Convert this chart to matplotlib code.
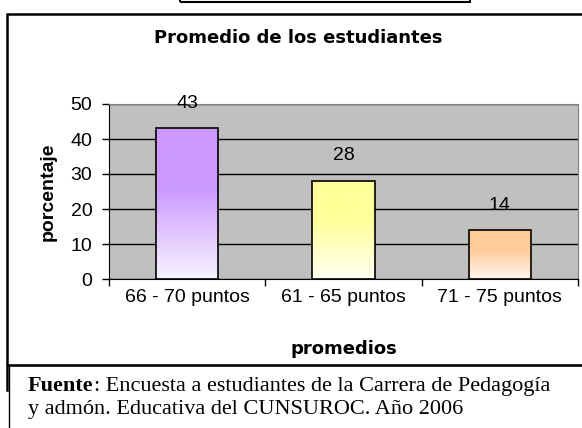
import numpy as np
import matplotlib
matplotlib.use("Agg")
from matplotlib import pyplot as plt
from matplotlib.colors import LinearSegmentedColormap
from matplotlib.patches import Rectangle

categorias = ["66 - 70 puntos", "61 - 65 puntos", "71 - 75 puntos"]
porcentajes = [43, 28, 14]
colores_top = ["#cc99ff", "#ffff99", "#ffcc99"]
colores_bottom = ["#f8f4ff", "#fffff2", "#fff6ee"]

W, H = 582, 428
plt.rcParams['font.family'] = ['Liberation Sans', 'DejaVu Sans']
fig = plt.figure(figsize=(W / 100, H / 100), dpi=100)


def px(x0, y0, x1, y1):
    # pixel box (top-left origin) -> figure fraction rect
    return [x0 / W, 1 - y1 / H, (x1 - x0) / W, (y1 - y0) / H]


ax = fig.add_axes(px(109, 104, 578, 279))
ax.set_facecolor("#c0c0c0")

x = np.arange(len(categorias))
bars = ax.bar(x, porcentajes, width=0.4, color="none", edgecolor="black", linewidth=1.2, zorder=3)
for b, ct, cb in zip(bars, colores_top, colores_bottom):
    cmap = LinearSegmentedColormap.from_list("g", [(0, cb), (0.6, ct), (1, ct)])
    grad = np.linspace(0, 1, 256).reshape(-1, 1)
    bx, by = b.get_x(), b.get_y()
    im = ax.imshow(grad, cmap=cmap, origin="lower", aspect="auto",
                   extent=[bx, bx + b.get_width(), by, by + b.get_height()], zorder=2)
    im.set_clip_path(b)
ax.set_xlim(-0.5, 2.5)
ax.set_ylim(0, 50)

for xi, v in zip(x, porcentajes):
    ax.annotate(f"{v}", (xi, v), xytext=(0, 18), textcoords="offset points",
                ha="center", va="center", fontsize=14, zorder=4)

ax.set_yticks([0, 10, 20, 30, 40, 50])
ax.yaxis.grid(True, color="black", linewidth=1)
ax.set_axisbelow(True)
ax.tick_params(axis="y", labelsize=14, length=5, width=1, pad=7)
ax.set_xticks(x)
ax.set_xticklabels(categorias)
ax.set_xticks([-0.5, 0.5, 1.5, 2.5], minor=True)
ax.tick_params(axis="x", which="major", length=0, labelsize=14, pad=7)
ax.tick_params(axis="x", which="minor", length=5, width=1)
for s in ["top", "right"]:
    ax.spines[s].set_color("#808080")
for s in ["left", "bottom"]:
    ax.spines[s].set_color("black")

ax.set_ylabel("porcentaje", fontsize=14, fontweight="bold")
ax.yaxis.set_label_coords((48 - 109) / 469, 0.5)
ax.yaxis.label.set_va("center")
ax.set_xlabel("promedios", fontsize=13, fontweight="bold", family="DejaVu Sans")
ax.xaxis.set_label_coords((344 - 109) / 469, -(349 - 279) / 175)
ax.xaxis.label.set_va("center")
fig.text(298 / W, 1 - 38 / H, "Promedio de los estudiantes", ha="center", va="center",
         fontsize=13, fontweight="bold", family="DejaVu Sans")

# frames
fig.patches.append(Rectangle((7 / W, 1 - 365 / H), 1, (365 - 14) / H, transform=fig.transFigure,
                             fill=False, edgecolor="black", linewidth=1.8))
fig.patches.append(Rectangle((180 / W, 1 - 2 / H), (470 - 180) / W, 0.1, transform=fig.transFigure,
                             fill=False, edgecolor="black", linewidth=1.5))
fig.lines.append(plt.Line2D([7 / W, 7 / W], [1 - 365 / H, 1 - 390 / H], transform=fig.transFigure,
                            color="black", linewidth=1.8))
fig.patches.append(Rectangle((9 / W, -0.1), 1, 0.1 + (428 - 365) / H, transform=fig.transFigure,
                             fill=False, edgecolor="black", linewidth=1))

ft = fig.text(28 / W, 1 - 391 / H, "Fuente", ha="left", va="baseline", fontsize=16,
              family="Liberation Serif", fontweight="bold")
fig.canvas.draw()
bb = ft.get_window_extent()
fig.text(bb.x1 / W, 1 - 391 / H, ": Encuesta a estudiantes de la Carrera de Pedagogía",
         ha="left", va="baseline", fontsize=16, family="Liberation Serif")
fig.text(28 / W, 1 - 414 / H, "y admón. Educativa del CUNSUROC. Año 2006",
         ha="left", va="baseline", fontsize=16, family="Liberation Serif")

fig.savefig("out.png", dpi=100)
